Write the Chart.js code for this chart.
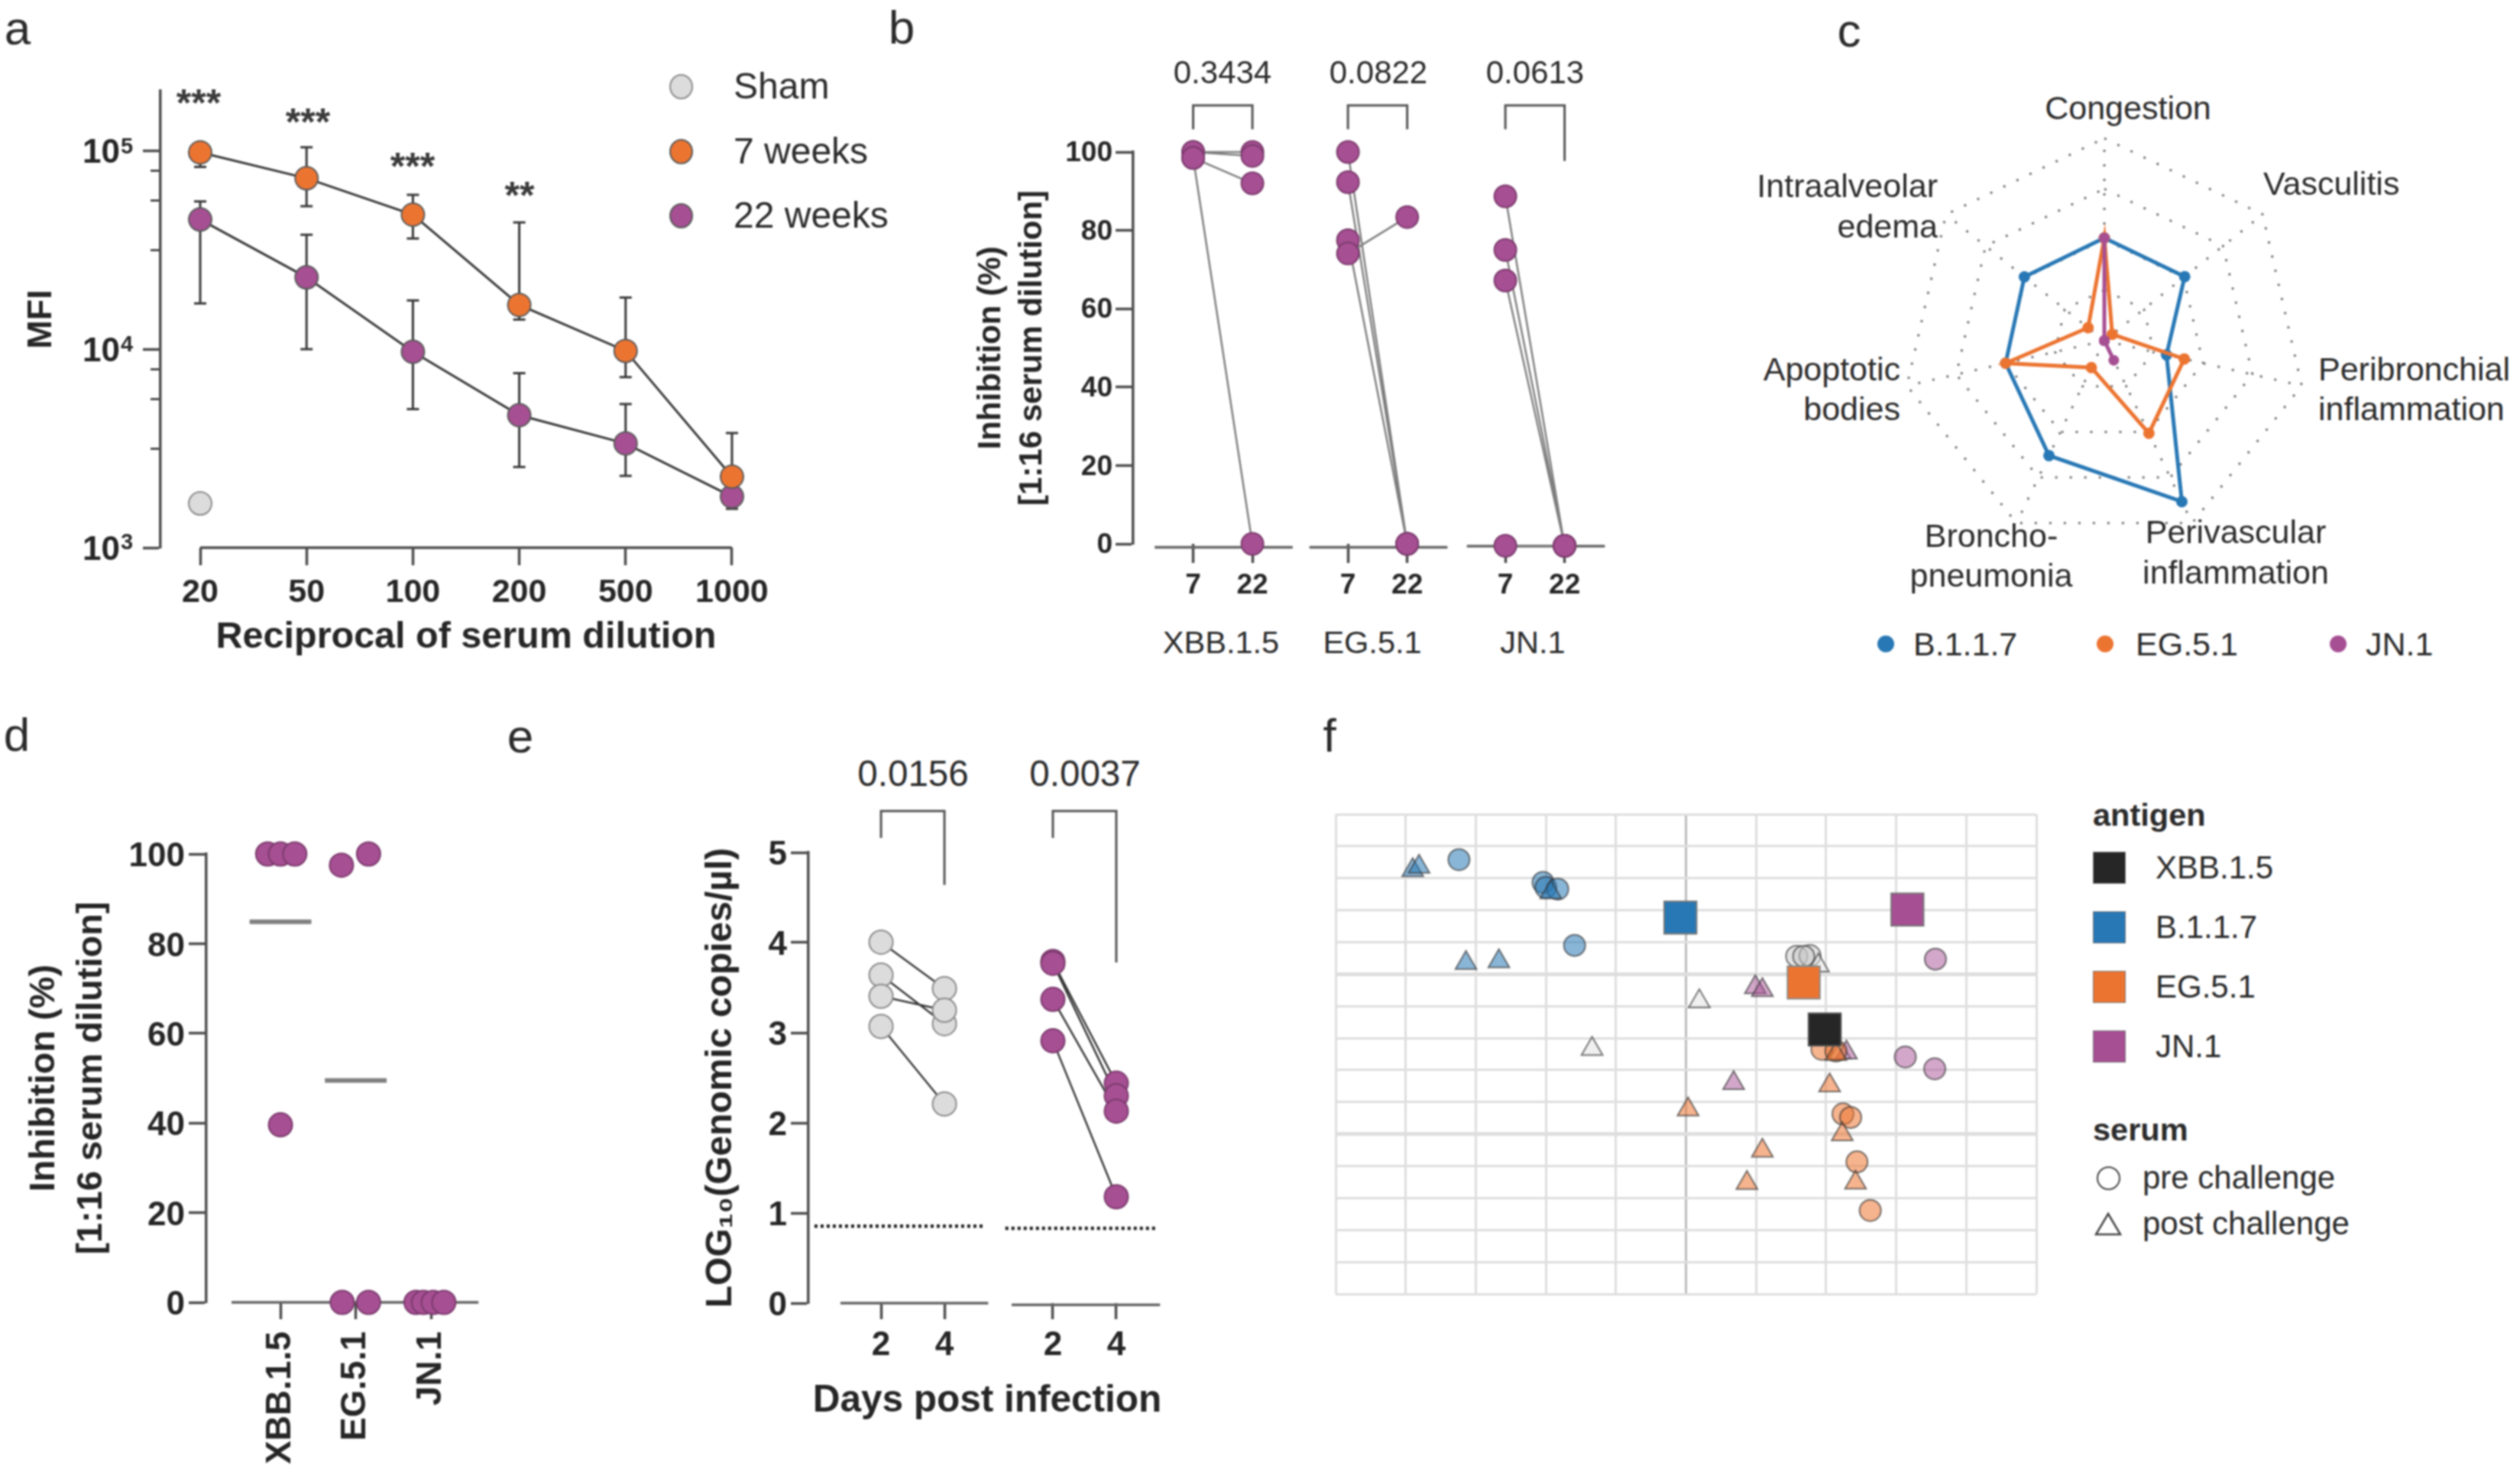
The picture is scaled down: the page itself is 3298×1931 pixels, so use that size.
<!DOCTYPE html>
<html><head><meta charset="utf-8">
<style>
html,body{margin:0;padding:0;background:#fff}
#root{position:relative;width:3298px;height:1931px;overflow:hidden;filter:blur(1.2px);background:#fff}
#root canvas{position:absolute}
.t{position:absolute;white-space:nowrap;line-height:1;color:#2b2b2b;font-family:"Liberation Sans",Arial,sans-serif}
.m{position:absolute}
</style>
<script src="https://cdn.jsdelivr.net/npm/chart.js@4"></script>
</head><body><div id="root"></div>
<script>
/* ---------- data ---------- */
// panel a
const dilutions = ['20','50','100','200','500','1000'];
const mfi7 = [98000,72600,47600,16700,9800,2280];
const mfi7Hi = [105000,104000,59900,43500,18200,3780];
const mfi7Lo = [82800,52500,36100,14100,7230,1950];
const mfi22 = [45000,23000,9700,4650,3350,1810];
const mfi22Hi = [55500,37700,17600,7570,5290,2050];
const mfi22Lo = [17000,10000,4990,2550,2300,1570];
const mfiSham = [1670];
const stars = ['***','***','***','**'];
const yExponents = ['5','4','3'];
// panel b
const bLabels = ['XBB.1.5','EG.5.1','JN.1'];
const bWeeks = ['7','22'];
const bXbb7 = [100,100,98.5,98.5], bXbb22 = [100,99,92,0];
const bEg7 = [100,92.3,77.5,74.1], bEg22 = [0,0,0,83.4];
const bJn7 = [88.7,75,67.2,-0.5], bJn22 = [-0.5,-0.5,-0.5,-0.5];
const bP = ['0.3434','0.0822','0.0613'];
// panel c
const cCats = [['Congestion'],['Vasculitis'],['Peribronchial','inflammation'],['Perivascular','inflammation'],['Broncho-','pneumonia'],['Apoptotic','bodies'],['Intraalveolar','edema']];
const cB117 = [2.03,2.03,1.26,3.53,2.52,2.0,2.02];
const cEG51 = [2.03,0.2,1.62,2.03,0.59,2.0,0.41];
const cJN1 = [2.03,0,0,0.43,0,0,0];
// panel d
const dCats = ['XBB.1.5','EG.5.1','JN.1'];
const dXbb = [100,100,100,39.6], dXbbJit = [-0.17,0,0.19,0];
const dEg = [97.5,100,0,0], dEgJit = [-0.19,0.17,-0.18,0.17];
const dJn = [0,0,0,0], dJnJit = [-0.2,-0.1,0.03,0.17];
const dMeans = [84.9,49.5];
// panel e
const eDays = ['2','4'];
const eGrey2 = [4.005,3.64,3.405,3.07], eGrey4 = [3.49,3.10,3.25,2.21];
const ePurple2 = [3.79,3.77,3.37,2.91], ePurple4 = [2.44,2.30,2.13,1.18];
const eLod = [0.854,0.83];
const eP = ['0.0156','0.0037'];
// panel f: antigenic map coordinates
const fB117Tri = [[-3.90,13.25],[-3.81,13.36],[-3.14,10.35],[-2.67,10.40],[-1.93,12.56]];
const fB117Cir = [[-3.24,13.58],[-2.04,12.87],[-2.0,12.71],[-1.83,12.66],[-1.59,10.90]];
const fXbbCir = [[1.58,10.56],[1.77,10.58],[1.68,10.56]];
const fXbbTri = [[1.89,10.27],[0.19,9.15],[-1.34,7.66],[2.2,7.55]];
const fJnTri = [[0.99,9.59],[1.09,9.50],[0.68,6.59],[2.29,7.55]];
const fJnCir = [[3.56,10.47],[3.13,7.41],[3.55,7.04]];
const fEgCir = [[1.94,7.65],[2.14,7.60],[2.24,5.63],[2.35,5.52],[2.44,4.13],[2.63,2.61]];
const fEgTri = [[2.05,6.52],[0.03,5.77],[2.23,4.99],[1.09,4.48],[0.87,3.47],[2.42,3.48],[2.14,7.5]];
const fAntigens = ['XBB.1.5','B.1.1.7','EG.5.1','JN.1'];
const fXbbAg = [[1.98,8.27]], fB117Ag = [[-0.08,11.77]], fEgAg = [[1.68,9.74]], fJnAg = [[3.16,12.02]];
const fSerum = ['pre challenge','post challenge'];

/* ---------- styling ---------- */
const FF = '"Liberation Sans", Arial, sans-serif';
const ORANGE='#ec7431', PURPLE='#a64f93', BLUE='#2878b5', GREY='#dcdcdc', AXIS='#4d4d4d', INK='#262626', BLACK='#262626';
const root = document.getElementById('root');

function txt(s,x,y,size,o={}){
  const d=document.createElement('div');d.className='t';d.textContent=s;
  const tx=o.a==='r'?'-100%':o.a==='c'?'-50%':'0';
  d.style.cssText=`left:${x}px;top:${y}px;font-size:${size}px;transform:translate(${tx},-50%);font-weight:${o.b?700:400};`+(o.c?`color:${o.c};`:'');
  root.appendChild(d);
}
function mark(x,y,w,h,css){
  const d=document.createElement('div');d.className='m';
  d.style.cssText=`left:${x-w/2}px;top:${y-h/2}px;width:${w}px;height:${h}px;box-sizing:border-box;`+css;
  root.appendChild(d);
}
function panel(rect,area,cfg){
  const [x,y,w,h]=rect,[l,t,r,b]=area;
  const c=document.createElement('canvas');c.width=w;c.height=h;c.style.left=x+'px';c.style.top=y+'px';c.style.width=w+'px';c.style.height=h+'px';
  root.appendChild(c);
  const sc=cfg.options.scales;
  Object.keys(sc).forEach(k=>{
    if(sc[k].type==='radialLinear')return;
    if(k==='x')sc[k].afterFit=s=>{s.height=y+h-b;s.paddingLeft=s.paddingRight=0;};
    else if(k==='y')sc[k].afterFit=s=>{s.width=l-x;s.paddingTop=s.paddingBottom=0;};
  });
  cfg.options=Object.assign({responsive:false,animation:false,devicePixelRatio:1,
    layout:{autoPadding:false,padding:{left:0,top:t-y,right:x+w-r,bottom:0}},
    plugins:{legend:{display:false},tooltip:{enabled:false}}},cfg.options);
  return new Chart(c,cfg);
}
const fixedTicks=(vals)=>(s=>{s.ticks=vals.map(v=>({value:v}));});
function line(pts,color,width,extra={}){
  return Object.assign({type:'scatter',showLine:true,data:pts.map(p=>({x:p[0],y:p[1]})),borderColor:color,borderWidth:width,pointRadius:0,clip:false,tension:0,borderCapStyle:'butt'},extra);
}
function pairs(off,a,b,fill,lineCol,lw,r,stroke){
  const data=[];
  a.forEach((v,i)=>{data.push({x:off,y:v},{x:off+1,y:b[i]},{x:off,y:NaN});});
  return {type:'scatter',showLine:true,data,borderColor:lineCol,borderWidth:lw,pointRadius:r,pointBackgroundColor:fill,pointBorderColor:stroke,pointBorderWidth:2,clip:false,tension:0};
}
function yAxis(o){
  return Object.assign({border:{display:true,color:AXIS,width:3.5},grid:{drawOnChartArea:false,drawTicks:true,tickLength:23,tickColor:AXIS,tickWidth:3.5},
    ticks:{font:{family:FF,size:o.size||42,weight:'bold'},color:INK,padding:o.pad||5,autoSkip:false,labelOffset:o.lo||0,stepSize:o.step,callback:o.cb}},o.extra||{});
}
function xAxis(o){
  return Object.assign({type:'linear',border:{display:false},grid:{drawOnChartArea:false,drawTicks:true,tickLength:o.tl||23,tickColor:AXIS,tickWidth:3.5},
    ticks:{font:{family:FF,size:o.size||42,weight:'bold'},color:INK,padding:o.pad||6,autoSkip:false,maxRotation:o.rot||0,minRotation:o.rot||0,callback:o.cb}},o.extra||{});
}

/* ---------- panel letters ---------- */
[['a',23,37],['b',1180,36],['c',2420,40],['d',22,962],['e',681,964],['f',1740,963]].forEach(p=>txt(p[0],p[1],p[2],62,{a:'c'}));

/* ---------- panel a ---------- */
(function(){
  const idx=dilutions.map((_,i)=>i);
  const errs=(hi,lo)=>{const d=[];idx.forEach(i=>{d.push({x:i,y:lo[i]},{x:i,y:hi[i]},{x:i,y:NaN});});
    return {type:'scatter',showLine:true,data:d,borderColor:'#3a3a3a',borderWidth:3,pointStyle:'line',pointRadius:8,pointBorderColor:'#3a3a3a',pointBorderWidth:3,clip:false};};
  const ser=(v,c)=>line(idx.map(i=>[i,v[i]]),'#3a3a3a',3,{pointRadius:15,pointBackgroundColor:c,pointBorderColor:'#5a5a5a',pointBorderWidth:2});
  const majors=[1000,10000,100000], minors=[];
  [1e5,1e4].forEach(d=>[0.1,0.25,0.5].forEach(e=>minors.push(d*Math.pow(10,-e))));
  panel([0,100,1030,780],[210,119,1010,717],{type:'scatter',data:{datasets:[
    ser(mfi7,ORANGE),ser(mfi22,PURPLE),
    line([[0,mfiSham[0]]],'#888',0,{showLine:false,pointRadius:15,pointBackgroundColor:GREY,pointBorderColor:'#8a8a8a',pointBorderWidth:2}),
    errs(mfi7Hi,mfi7Lo),errs(mfi22Hi,mfi22Lo),
    line([[0,1000],[5,1000]],AXIS,3.5)
  ]},options:{scales:{
    x:xAxis({pad:10,size:43,cb:v=>dilutions[v],extra:{min:-0.3736,max:5.374,afterBuildTicks:fixedTicks(idx),
      title:{display:true,text:'Reciprocal of serum dilution',color:INK,font:{family:FF,size:48.5,weight:'bold'},padding:{top:0,bottom:16}}}}),
    y:yAxis({pad:30,size:44,lo:4,cb:()=>'10',extra:{type:'logarithmic',min:1000,max:200000,afterBuildTicks:fixedTicks(majors),
      title:{display:true,text:'MFI',color:INK,font:{family:FF,size:45,weight:'bold'},padding:{top:28,bottom:0}}}}),
    yMinor:{type:'logarithmic',position:'left',weight:-1,min:1000,max:200000,afterBuildTicks:fixedTicks(minors),
      afterFit:s=>{s.width=0;s.paddingTop=s.paddingBottom=0;},border:{display:false},
      grid:{drawOnChartArea:false,drawTicks:true,tickLength:13,tickColor:AXIS,tickWidth:3},ticks:{display:false}}
  }}});
  [191,450,709].forEach((y,i)=>txt(yExponents[i],158,y,29,{b:1}));
  [[260,127],[403,152],[540,210],[680,248]].forEach((p,i)=>txt(stars[i],p[0],p[1]+8,50,{a:'c',b:1,c:'#3a3a3a'}));
  [['Sham',GREY,'#8a8a8a',113],['7 weeks',ORANGE,'#5a5a5a',198],['22 weeks',PURPLE,'#5a5a5a',282]].forEach(l=>{
    mark(891,l[3],31,33,`border-radius:50%;background:${l[1]};border:2px solid ${l[2]};`);
    txt(l[0],960,l[3],48);
  });
})();

/* ---------- panel b ---------- */
(function(){
  const off=[0,2.613,5.27];
  const pr=[[bXbb7,bXbb22],[bEg7,bEg22],[bJn7,bJn22]];
  const ticks=[];off.forEach(o=>ticks.push(o,o+1));
  const lab=v=>{const i=ticks.indexOf(v);return i<0?'':bWeeks[i%2];};
  const ds=[];
  pr.forEach((p,i)=>ds.push(pairs(off[i],p[0],p[1],PURPLE,'#7f7f7f',2.5,14.5,'#7a3a6c')));
  off.forEach((o,i)=>{
    const y0=i===2?-0.6:-0.9;
    ds.push(line([[o-0.65,y0],[o+1.68,y0]],'#666',3.5));
    const rightEnd=i===2?97.7:105.8;
    ds.push(line([[o,105.8],[o,111.9],[o+1,111.9],[o+1,rightEnd]],'#555',3));
  });
  panel([1260,60,860,720],[1483,199,2105,712],{type:'scatter',data:{datasets:ds},options:{scales:{
    x:xAxis({tl:25,size:37,pad:8,cb:lab,extra:{min:-1.013,max:7.01,afterBuildTicks:fixedTicks(ticks)}}),
    y:yAxis({size:37,pad:4,lo:2,step:20,extra:{min:0,max:100,
      title:{display:true,text:['Inhibition (%)','[1:16 serum dilution]'],color:INK,font:{family:FF,size:42,weight:'bold',lineHeight:1.29},padding:{top:10,bottom:0}}}})
  }}});
  [1600,1804,2009].forEach((x,i)=>txt(bP[i],x,95,42,{a:'c'}));
  [1598,1796,2006].forEach((x,i)=>txt(bLabels[i],x,841,41.5,{a:'c'}));
})();

/* ---------- panel c ---------- */
(function(){
  panel([2489,171,540,540],[2499,181,3019,701],{type:'radar',data:{labels:cCats.map(c=>c.join(' ')),datasets:[
    {data:cJN1,borderColor:PURPLE,backgroundColor:PURPLE,borderWidth:5,pointRadius:4.5,fill:false},
    {data:cEG51,borderColor:ORANGE,backgroundColor:ORANGE,borderWidth:5,pointRadius:5,fill:false},
    {data:cB117,borderColor:BLUE,backgroundColor:BLUE,borderWidth:5,pointRadius:5,fill:false}
  ]},options:{scales:{r:{type:'radialLinear',min:0,max:4,
    ticks:{display:false,stepSize:1},
    pointLabels:{display:false},
    angleLines:{display:true,color:'#777',lineWidth:3,borderDash:[3,16]},
    grid:{color:'#777',lineWidth:3,circular:false},
    border:{dash:[3,16]}
  }}}});
  const pos=[[2785,[141],'c'],[2962,[240],'l'],[3034,[483,535],'l'],[2926,[696,749],'c'],[2606,[701,753],'c'],[2487,[483,535],'r'],[2536,[243,296],'r']];
  cCats.forEach((c,i)=>c.forEach((s,j)=>txt(s,pos[i][0],pos[i][1][j],43,{a:pos[i][2]})));
  [['B.1.1.7',BLUE,2468,2504],['EG.5.1',ORANGE,2755,2795],['JN.1',PURPLE,3060,3096]].forEach(l=>{
    mark(l[2],843,22,22,`border-radius:50%;background:${l[1]};`);
    txt(l[0],l[3],843,43);
  });
})();

/* ---------- panel d ---------- */
(function(){
  const pts=(c,ys,js)=>ys.map((y,i)=>({x:c+js[i],y}));
  const dots=(d)=>({type:'scatter',data:d,pointRadius:15.5,pointBackgroundColor:PURPLE,pointBorderColor:'#7a3a6c',pointBorderWidth:2,clip:false});
  panel([0,1090,660,840],[270,1118,640,1705],{type:'scatter',data:{datasets:[
    dots(pts(0,dXbb,dXbbJit)),dots(pts(1,dEg,dEgJit)),dots(pts(2,dJn,dJnJit)),
    line([[-0.41,dMeans[0]],[0.41,dMeans[0]]],'#808080',6),
    line([[0.59,dMeans[1]],[1.41,dMeans[1]]],'#808080',6),
    line([[-0.65,0],[2.63,0]],'#666',3.5)
  ]},options:{scales:{
    x:xAxis({tl:22,size:46,pad:16,rot:90,cb:v=>dCats[v],extra:{min:-0.985,max:2.77,afterBuildTicks:fixedTicks([0,1,2])}}),
    y:yAxis({size:44,pad:5,lo:4,step:20,extra:{min:0,max:100,
      title:{display:true,text:['Inhibition (%)','[1:16 serum dilution]'],color:INK,font:{family:FF,size:47,weight:'bold',lineHeight:1.32},padding:{top:27,bottom:0}}}})
  }}});
})();

/* ---------- panel e ---------- */
(function(){
  const o2=2.71;
  const ticks=[0,1,o2,o2+1];
  const lab=v=>{const i=ticks.indexOf(v);return i<0?'':eDays[i%2];};
  panel([880,1040,680,880],[1058,1116,1526,1706],{type:'scatter',data:{datasets:[
    pairs(0,eGrey2,eGrey4,GREY,'#3a3a3a',2.5,15.5,'#8a8a8a'),
    pairs(o2,ePurple2,ePurple4,PURPLE,'#3a3a3a',2.5,15.5,'#7a3a6c'),
    line([[-1.05,eLod[0]],[1.61,eLod[0]]],'#222',4.5,{borderDash:[4,4]}),
    line([[1.96,eLod[1]],[4.34,eLod[1]]],'#222',4.5,{borderDash:[4,4]}),
    line([[-0.64,0],[1.69,0]],'#666',3.5),
    line([[2.06,-0.02],[4.40,-0.02]],'#666',3.5),
    line([[0,5.16],[0,5.46],[1,5.46],[1,4.64]],'#555',3),
    line([[o2,5.16],[o2,5.46],[o2+1,5.46],[o2+1,3.78]],'#555',3)
  ]},options:{scales:{
    x:xAxis({tl:21,size:44,pad:8,cb:lab,extra:{min:-1.145,max:4.494,afterBuildTicks:fixedTicks(ticks),
      title:{display:true,text:'Days post infection',color:INK,font:{family:FF,size:49.5,weight:'bold'},padding:{top:0,bottom:56}}}}),
    y:yAxis({size:44,pad:5,lo:4,step:1,extra:{min:0,max:5,
      title:{display:true,text:'LOG₁₀(Genomic copies/µl)',color:INK,font:{family:FF,size:48,weight:'bold'},padding:{top:35,bottom:0}}}})
  }}});
  txt(eP[0],1195,1013,47.5,{a:'c'});
  txt(eP[1],1420,1013,47.5,{a:'c'});
})();

/* ---------- panel f ---------- */
(function(){
  const S='rgba(50,50,50,0.65)';
  const set=(pts,style,r,fill,stroke)=>({type:'scatter',data:pts.map(p=>({x:p[0],y:p[1]})),pointStyle:style,pointRadius:r,pointBackgroundColor:fill,pointBorderColor:stroke||S,pointBorderWidth:2,clip:false});
  const a=(hex,al)=>{const n=parseInt(hex.slice(1),16);return `rgba(${n>>16},${(n>>8)&255},${n&255},${al})`;};
  panel([1730,1050,950,660],[1748,1066,2665,1694],{type:'scatter',data:{datasets:[
    set(fXbbAg,'rect',30,BLACK,'#555'),set(fB117Ag,'rect',30,BLUE,'#777'),set(fEgAg,'rect',30,ORANGE,'#888'),set(fJnAg,'rect',30,PURPLE,'#777'),
    set(fB117Tri,'triangle',16,a(BLUE,0.55)),set(fB117Cir,'circle',14,a(BLUE,0.55)),
    set(fEgTri,'triangle',16,a(ORANGE,0.55)),set(fEgCir,'circle',14,a(ORANGE,0.55)),
    set(fJnTri,'triangle',16,a(PURPLE,0.5)),set(fJnCir,'circle',14,a(PURPLE,0.5)),
    set(fXbbTri,'triangle',16,'rgba(225,225,225,0.5)'),set(fXbbCir,'circle',14,'rgba(200,200,200,0.5)')
  ]},options:{scales:{
    x:{type:'linear',min:-5,max:5,border:{display:false},ticks:{display:false,stepSize:1},
       grid:{drawTicks:false,color:c=>c.tick.value===0?'#bcbcbc':'#dedede',lineWidth:3}},
    y:{type:'linear',min:0,max:15,border:{display:false},ticks:{display:false,stepSize:1},
       grid:{drawTicks:false,color:'#dedede',lineWidth:c=>(c.tick.value===5||c.tick.value===10)?5:3}}
  }}});
  txt('antigen',2739,1067,41.5,{b:1});
  const cols=[BLACK,BLUE,ORANGE,PURPLE],ys=[1136,1214,1292,1370];
  fAntigens.forEach((s,i)=>{mark(2760,ys[i],43,42,`background:${cols[i]};border:1.5px solid #777;`);txt(s,2821,ys[i],42);});
  txt('serum',2739,1479,41.5,{b:1});
  txt(fSerum[0],2804,1542,42);txt(fSerum[1],2804,1602,42);
  mark(2759,1542,31,31,'border-radius:50%;border:2.5px solid #444;');
  const sv=document.createElementNS('http://www.w3.org/2000/svg','svg');
  sv.setAttribute('width','36');sv.setAttribute('height','32');sv.style.cssText='position:absolute;left:2741px;top:1586px';
  sv.innerHTML='<polygon points="18,3 34,30 2,30" fill="none" stroke="#444" stroke-width="2.5"/>';
  root.appendChild(sv);
})();
</script></body></html>
